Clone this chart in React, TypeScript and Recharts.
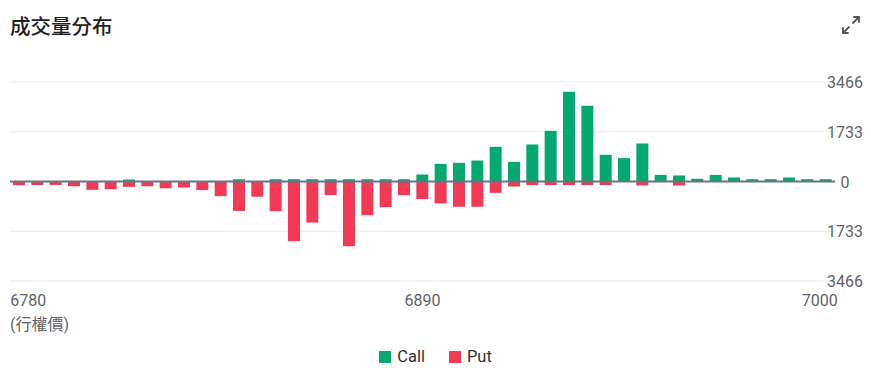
import React from 'react';
import { BarChart, Bar, XAxis, YAxis, CartesianGrid, ReferenceLine, Legend } from 'recharts';

const strikes = [
  6780, 6785, 6790, 6795, 6800, 6805, 6810, 6815, 6820, 6825,
  6830, 6835, 6840, 6845, 6850, 6855, 6860, 6865, 6870, 6875,
  6880, 6885, 6890, 6895, 6900, 6905, 6910, 6915, 6920, 6925,
  6930, 6935, 6940, 6945, 6950, 6955, 6960, 6965, 6970, 6975,
  6980, 6985, 6990, 6995, 7000,
];
const callVolume = [
  0, 0, 0, 0, 0, 0, 70, 0, 0, 0,
  0, 0, 80, 0, 80, 80, 80, 80, 80, 80,
  80, 80, 245, 615, 650, 730, 1210, 685, 1290, 1765,
  3125, 2640, 930, 815, 1325, 230, 210, 95, 230, 140,
  80, 80, 140, 80, 80,
];
const putVolume = [
  130, 120, 120, 165, 290, 270, 185, 165, 235, 210,
  300, 510, 1025, 535, 1035, 2080, 1430, 475, 2255, 1175,
  895, 475, 615, 765, 880, 880, 395, 175, 125, 125,
  125, 125, 125, 0, 140, 0, 140, 0, 0, 0,
  0, 0, 0, 0, 0,
];
const xTicks = [6780, 6890, 7000];
const yTicks = [-3466, -1733, 0, 1733, 3466];

const GREEN = '#03a96f';
const RED = '#f23a57';
const AXIS_TEXT = '#5f6368';

const data = strikes.map((s, i) => ({
  strike: s,
  Call: callVolume[i],
  Put: -putVolume[i],
}));

const XTick = (props: any) => {
  const { x, y, payload } = props;
  const v = payload.value;
  let anchor: 'start' | 'middle' | 'end' = 'middle';
  let dx = 0;
  if (v === xTicks[0]) { anchor = 'start'; dx = -9; }
  else if (v === xTicks[xTicks.length - 1]) { anchor = 'end'; dx = 12; }
  return (
    <text x={x + dx} y={y + 25} textAnchor={anchor} fill={AXIS_TEXT} fontSize={16} fontFamily="Roboto">
      {v}
    </text>
  );
};

const YTick = (props: any) => {
  const { y, payload } = props;
  return (
    <text x={845} y={y + 6} textAnchor="middle" fill={AXIS_TEXT} fontSize={16} fontFamily="Roboto">
      {Math.abs(payload.value)}
    </text>
  );
};

const LegendContent = (props: any) => {
  const items = props.payload || [];
  return (
    <div style={{ display: 'flex', justifyContent: 'center', alignItems: 'center', fontFamily: 'Roboto', fontSize: 16.5, color: '#333' }}>
      {items.map((it: any, i: number) => (
        <div key={i} style={{ display: 'flex', alignItems: 'center', marginRight: i === items.length - 1 ? 0 : 24 }}>
          <span style={{ display: 'inline-block', width: 12, height: 12, background: it.color, marginRight: 6 }} />
          <span>{it.value}</span>
        </div>
      ))}
    </div>
  );
};

export default function App() {
  return (
    <div style={{ position: 'absolute', left: 0, top: 0, width: 871, height: 370, background: '#fff' }}>
      <div style={{ position: 'absolute', left: 10, top: 11, fontFamily: '"Noto Sans CJK TC", "Noto Sans", sans-serif', fontSize: 20.5, fontWeight: 500, color: '#222', lineHeight: '28px' }}>
        成交量分布
      </div>
      <svg style={{ position: 'absolute', left: 840, top: 14 }} width={22} height={22} viewBox="0 0 22 22">
        <g stroke="#555" strokeWidth={1.8} fill="none" strokeLinecap="round" strokeLinejoin="round">
          <path d="M13 9 L19 3" />
          <path d="M14 3 L19 3 L19 8" />
          <path d="M9 13 L3 19" />
          <path d="M3 14 L3 19 L8 19" />
        </g>
      </svg>
      <BarChart
        width={871}
        height={370}
        data={data}
        stackOffset="sign"
        margin={{ top: 82, right: 0, left: 10, bottom: 59 }}
        barSize={12}
      >
        <CartesianGrid horizontal vertical={false} stroke="#ececec" />
        <XAxis
          dataKey="strike"
          ticks={xTicks}
          interval={0}
          axisLine={false}
          tickLine={false}
          tickSize={0}
          tickMargin={0}
          height={30}
          tick={<XTick />}
        />
        <YAxis
          orientation="right"
          width={36}
          domain={[-3466, 3466]}
          ticks={yTicks}
          axisLine={false}
          tickLine={false}
          tick={<YTick />}
        />
        <Legend
          layout="horizontal"
          verticalAlign="middle"
          wrapperStyle={{ top: 347, left: 0, width: 871 }}
          content={<LegendContent />}
        />
        <Bar dataKey="Call" stackId="a" fill={GREEN} isAnimationActive={false} />
        <Bar dataKey="Put" stackId="a" fill={RED} isAnimationActive={false} />
        <ReferenceLine y={0} stroke="#697386" strokeWidth={2} />
      </BarChart>
      <div style={{ position: 'absolute', left: 10, top: 314, fontFamily: 'Roboto, "Noto Sans CJK TC", sans-serif', fontSize: 16, color: AXIS_TEXT, lineHeight: '22px' }}>
        (行權價)
      </div>
    </div>
  );
}
